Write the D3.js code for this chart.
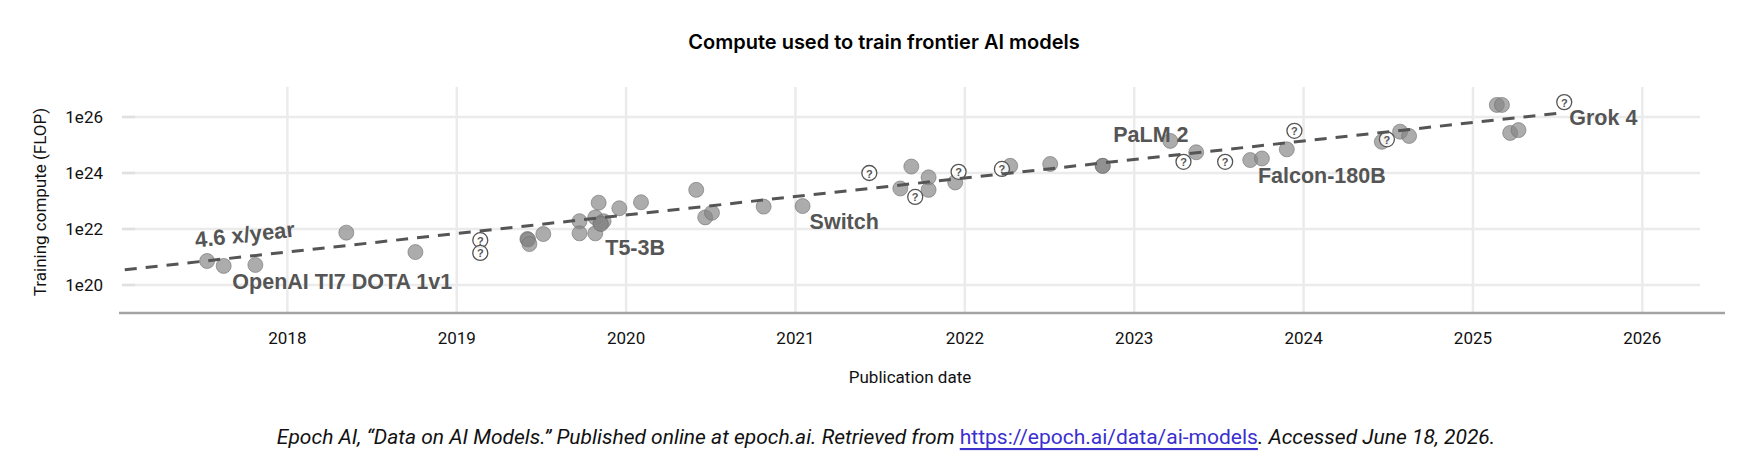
<!DOCTYPE html>
<html>
<head>
<meta charset="utf-8">
<script src="https://cdn.jsdelivr.net/npm/d3@7"></script>
<style>
  html, body { margin: 0; padding: 0; background: #fff; }
  svg { display: block; }
</style>
</head>
<body>
<svg id="chart" width="1745" height="465"></svg>
<script>
// ---------------- DATA ----------------
const title = "Compute used to train frontier AI models";
const xTitle = "Publication date";
const yTitle = "Training compute (FLOP)";
const xTickValues = [2018, 2019, 2020, 2021, 2022, 2023, 2024, 2025, 2026];
const xTickLabels = ["2018", "2019", "2020", "2021", "2022", "2023", "2024", "2025", "2026"];
const yTickValues = [1e20, 1e22, 1e24, 1e26];
const yTickLabels = ["1e20", "1e22", "1e24", "1e26"];

// models with known compute (publication date as decimal year, training FLOP)
const knownDates = [
  2017.526, 2017.624, 2017.811, 2018.348, 2018.756,
  2019.417, 2019.421, 2019.429, 2019.511, 2019.725, 2019.725,
  2019.838, 2019.818, 2019.867, 2019.818, 2019.848, 2019.852, 2019.960, 2020.088,
  2020.414, 2020.467, 2020.507, 2020.812, 2021.042,
  2021.684, 2021.619, 2021.786, 2021.786, 2021.943,
  2022.268, 2022.504, 2022.813, 2022.815,
  2023.213, 2023.366, 2023.685, 2023.754, 2023.901,
  2024.462, 2024.570, 2024.623,
  2025.141, 2025.171, 2025.220, 2025.269
];
const knownCompute = [
  7.2e20, 4.8e20, 5.2e20, 7.4e21, 1.5e21,
  4.4e21, 4.2e21, 2.9e21, 6.6e21, 1.9e22, 7.0e21,
  8.7e22, 2.6e22, 1.9e22, 7.0e21, 1.6e22, 1.5e22, 5.5e22, 9.0e22,
  2.5e23, 2.6e22, 3.8e22, 6.3e22, 6.6e22,
  1.7e24, 2.8e23, 7.0e23, 2.5e23, 4.6e23,
  1.8e24, 2.1e24, 1.8e24, 1.8e24,
  1.4e25, 5.5e24, 2.9e24, 3.3e24, 7.0e24,
  1.3e25, 3.0e25, 2.1e25,
  2.7e26, 2.7e26, 2.7e25, 3.4e25
];

// models with speculative compute estimates ("?" markers)
const estDates = [2019.139, 2019.139, 2021.436, 2021.707, 2021.963, 2022.219,
                  2023.291, 2023.537, 2023.946, 2024.492, 2025.539];
const estCompute = [4.0e21, 1.4e21, 1.0e24, 1.4e23, 1.1e24, 1.4e24,
                    2.5e24, 2.5e24, 3.2e25, 1.6e25, 3.4e26];

// trend line (4.6x per year)
const trendDates = [2017.04, 2025.52];
const trendCompute = [3.5e20, 1.4e26];
const trendLabel = "4.6 x/year";

// labelled models
const labelTexts = ["OpenAI TI7 DOTA 1v1", "T5-3B", "Switch", "PaLM 2", "Falcon-180B", "Grok 4"];
const labelDates = [2017.811, 2019.818, 2021.042, 2023.213, 2023.754, 2025.539];
const labelCompute = [5.2e20, 7.0e21, 6.6e22, 1.4e25, 3.3e24, 3.4e26];

const footerParts = [
  "Epoch AI, \u201CData on AI Models.\u201D Published online at epoch.ai. Retrieved from ",
  "https://epoch.ai/data/ai-models",
  ". Accessed June 18, 2026."
];

// ---------------- LAYOUT / STYLE ----------------
const labelOffsets = [[-23, 17], [10, 15], [7, 16], [-57, -6], [-4, 18], [5, 16]];
const svg = d3.select("#chart");

const x = d3.scaleLinear().domain([2017, 2026.5]).range([118, 1727]);
const y = d3.scaleLog().domain([1e19, 1e27]).range([313, 89]);

const gridLeft = 122, gridRight = 1700, gridTop = 87;
const axisLeft = 119, axisRight = 1725;

// horizontal gridlines
svg.append("g").selectAll("line").data(yTickValues).join("line")
  .attr("x1", gridLeft).attr("x2", gridRight)
  .attr("y1", d => y(d)).attr("y2", d => y(d))
  .attr("stroke", "#ebebeb").attr("stroke-width", 2.5);
// small darker tick segments at left
svg.append("g").selectAll("line").data(yTickValues).join("line")
  .attr("x1", gridLeft).attr("x2", gridLeft + 13)
  .attr("y1", d => y(d)).attr("y2", d => y(d))
  .attr("stroke", "#e0e0e0").attr("stroke-width", 2.5);

// vertical gridlines
svg.append("g").selectAll("line").data(xTickValues).join("line")
  .attr("x1", d => x(d)).attr("x2", d => x(d))
  .attr("y1", gridTop).attr("y2", y(1e19))
  .attr("stroke", "#ebebeb").attr("stroke-width", 2.5);

// x axis line
svg.append("line")
  .attr("x1", axisLeft).attr("x2", axisRight)
  .attr("y1", y(1e19)).attr("y2", y(1e19))
  .attr("stroke", "#a3a3a3").attr("stroke-width", 2.6);

// x tick labels
svg.append("g").selectAll("text").data(xTickValues).join("text")
  .attr("x", d => x(d)).attr("y", 338)
  .attr("text-anchor", "middle").attr("dominant-baseline", "central")
  .attr("font-family", "Roboto, sans-serif").attr("font-size", 17).attr("fill", "#111")
  .text((d, i) => xTickLabels[i]);

// y tick labels
svg.append("g").selectAll("text").data(yTickValues).join("text")
  .attr("x", 103).attr("y", d => y(d))
  .attr("text-anchor", "end").attr("dominant-baseline", "central")
  .attr("font-family", "Roboto, sans-serif").attr("font-size", 17).attr("fill", "#111")
  .text((d, i) => yTickLabels[i]);

// axis titles
svg.append("text")
  .attr("x", 910).attr("y", 377)
  .attr("text-anchor", "middle").attr("dominant-baseline", "central")
  .attr("font-family", "Roboto, sans-serif").attr("font-size", 17).attr("fill", "#111")
  .text(xTitle);
svg.append("text")
  .attr("transform", "translate(40,202) rotate(-90)")
  .attr("text-anchor", "middle").attr("dominant-baseline", "central")
  .attr("font-family", "Roboto, sans-serif").attr("font-size", 17).attr("fill", "#111")
  .text(yTitle);

// chart title
svg.append("text")
  .attr("x", 884).attr("y", 42)
  .attr("text-anchor", "middle").attr("dominant-baseline", "central")
  .attr("font-family", "Inter, Roboto, sans-serif").attr("font-weight", 600)
  .attr("font-size", 20).attr("fill", "#000")
  .text(title);

// known points
const known = knownDates.map((d, i) => ({ t: d, c: knownCompute[i] }));
svg.append("g").selectAll("circle").data(known).join("circle")
  .attr("cx", d => x(d.t)).attr("cy", d => y(d.c)).attr("r", 7.5)
  .attr("fill", "#858585").attr("fill-opacity", 0.68)
  .attr("stroke", "#6f6f6f").attr("stroke-opacity", 0.6).attr("stroke-width", 1);

// speculative points
const est = estDates.map((d, i) => ({ t: d, c: estCompute[i] }));
const eg = svg.append("g").selectAll("g").data(est).join("g")
  .attr("transform", d => `translate(${x(d.t)},${y(d.c)})`);
eg.append("circle").attr("r", 7.5)
  .attr("fill", "#fff").attr("fill-opacity", 0.85)
  .attr("stroke", "#555").attr("stroke-width", 1.3);
eg.append("text").attr("text-anchor", "middle").attr("dominant-baseline", "central")
  .attr("y", 0.5)
  .attr("font-family", "Liberation Sans, Arial, sans-serif").attr("font-weight", "bold")
  .attr("font-size", 11).attr("fill", "#555").text("?");

// trend line
const trend = trendDates.map((d, i) => ({ t: d, c: trendCompute[i] }));
svg.append("path").datum(trend)
  .attr("d", d3.line().x(d => x(d.t)).y(d => y(d.c)))
  .attr("fill", "none").attr("stroke", "#555").attr("stroke-width", 3)
  .attr("stroke-dasharray", "12,9");

// trend label, rotated along the line
const p0 = [x(trend[0].t), y(trend[0].c)], p1 = [x(trend[1].t), y(trend[1].c)];
const ang = Math.atan2(p1[1] - p0[1], p1[0] - p0[0]) * 180 / Math.PI;
const lx = 195;
const ly = p0[1] + (lx - p0[0]) * (p1[1] - p0[1]) / (p1[0] - p0[0]) - 22;
svg.append("text")
  .attr("transform", `translate(${lx},${ly}) rotate(${ang})`)
  .attr("dominant-baseline", "central")
  .attr("font-family", "Liberation Sans, Arial, sans-serif").attr("font-weight", "bold")
  .attr("font-size", 22).attr("fill", "#555")
  .text(trendLabel);

// model labels
svg.append("g").selectAll("text").data(labelTexts).join("text")
  .attr("x", (d, i) => x(labelDates[i]) + labelOffsets[i][0])
  .attr("y", (d, i) => y(labelCompute[i]) + labelOffsets[i][1])
  .attr("dominant-baseline", "central")
  .attr("font-family", "Liberation Sans, Arial, sans-serif").attr("font-weight", "bold")
  .attr("font-size", 21.5).attr("fill", "#555")
  .text(d => d);

// footer
const ft = svg.append("text")
  .attr("x", 886).attr("y", 437)
  .attr("text-anchor", "middle").attr("dominant-baseline", "central")
  .attr("font-family", "Roboto, sans-serif").attr("font-style", "italic")
  .attr("font-size", 21).attr("fill", "#111");
ft.append("tspan").text(footerParts[0]);
ft.append("tspan").attr("fill", "#3b2fd0").attr("font-style", "normal")
  .attr("text-decoration", "underline").text(footerParts[1]);
ft.append("tspan").text(footerParts[2]);
</script>
</body>
</html>
